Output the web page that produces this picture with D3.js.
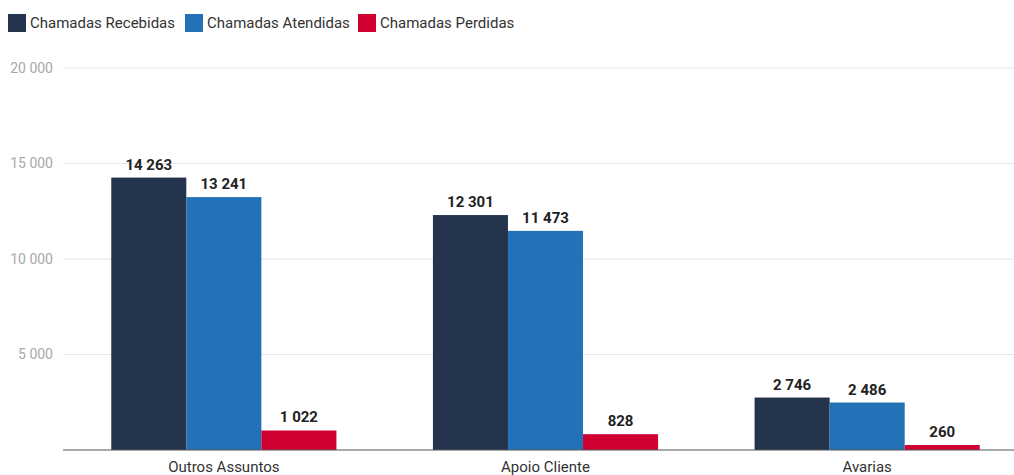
<!DOCTYPE html>
<html><head><meta charset="utf-8">
<script src="https://cdn.jsdelivr.net/npm/d3@7"></script>
<style>body{margin:0;background:#fff;font-family:Roboto,sans-serif;}</style>
</head><body><svg id="c" width="1014" height="475"></svg>
<script>
const categories = ["Outros Assuntos", "Apoio Cliente", "Avarias"];
const seriesNames = ["Chamadas Recebidas", "Chamadas Atendidas", "Chamadas Perdidas"];
const recebidas = [14263, 12301, 2746];
const atendidas = [13241, 11473, 2486];
const perdidas = [1022, 828, 260];
const yTicks = [5000, 10000, 15000, 20000];
const colors = ["#24344d", "#2372b7", "#d10032"];

const seriesValues = [recebidas, atendidas, perdidas];
const svg = d3.select("#c");
const fmt = v => d3.format(",")(v).replace(/,/g, " ");

const x0 = d3.scaleBand().domain(categories).range([63, 1028]).paddingInner(0.3).paddingOuter(0.15);
const x1 = d3.scaleBand().domain(seriesNames).range([0, x0.bandwidth()]);
const y = d3.scaleLinear().domain([0, 20000]).range([450, 68]);

// gridlines
svg.append("g").selectAll("line").data(yTicks).join("line")
  .attr("x1", 63).attr("x2", 1014)
  .attr("y1", d => y(d)).attr("y2", d => y(d))
  .attr("stroke", "#e6e6e6").attr("stroke-width", 1);

// y labels
svg.append("g").selectAll("text").data(yTicks).join("text")
  .attr("x", 53).attr("y", d => y(d)).attr("dy", "0.35em")
  .attr("text-anchor", "end").attr("font-size", 14).attr("fill", "#a8a8a8")
  .text(d => fmt(d));

// bars
const groups = svg.append("g").selectAll("g").data(categories).join("g")
  .attr("transform", d => `translate(${x0(d)},0)`);
groups.each(function(cat, ci) {
  const g = d3.select(this);
  seriesNames.forEach((s, si) => {
    const v = seriesValues[si][ci];
    g.append("rect").attr("x", x1(s)).attr("width", x1.bandwidth())
      .attr("y", y(v)).attr("height", y(0) - y(v)).attr("fill", colors[si]);
    g.append("text").attr("x", x1(s) + x1.bandwidth() / 2).attr("y", y(v) - 8)
      .attr("text-anchor", "middle").attr("font-size", 15).attr("font-weight", "bold")
      .attr("fill", "#222").text(fmt(v));
  });
});

// baseline
svg.append("line").attr("x1", 63).attr("x2", 1014).attr("y1", y(0)).attr("y2", y(0))
  .attr("stroke", "#555").attr("stroke-width", 1);

// category labels
svg.append("g").selectAll("text").data(categories).join("text")
  .attr("x", d => x0(d) + x0.bandwidth() / 2).attr("y", 467).attr("dy", "0.35em")
  .attr("text-anchor", "middle").attr("font-size", 15).attr("fill", "#333")
  .text(d => d);

// legend
const legendX = [8, 185, 358];
const lg = svg.append("g").selectAll("g").data(seriesNames).join("g")
  .attr("transform", (d, i) => `translate(${legendX[i]},14)`);
lg.append("rect").attr("width", 18).attr("height", 18).attr("fill", (d, i) => colors[i]);
lg.append("text").attr("x", 22).attr("y", 9).attr("dy", "0.35em")
  .attr("font-size", 15).attr("fill", "#333").text(d => d);
</script></body></html>
